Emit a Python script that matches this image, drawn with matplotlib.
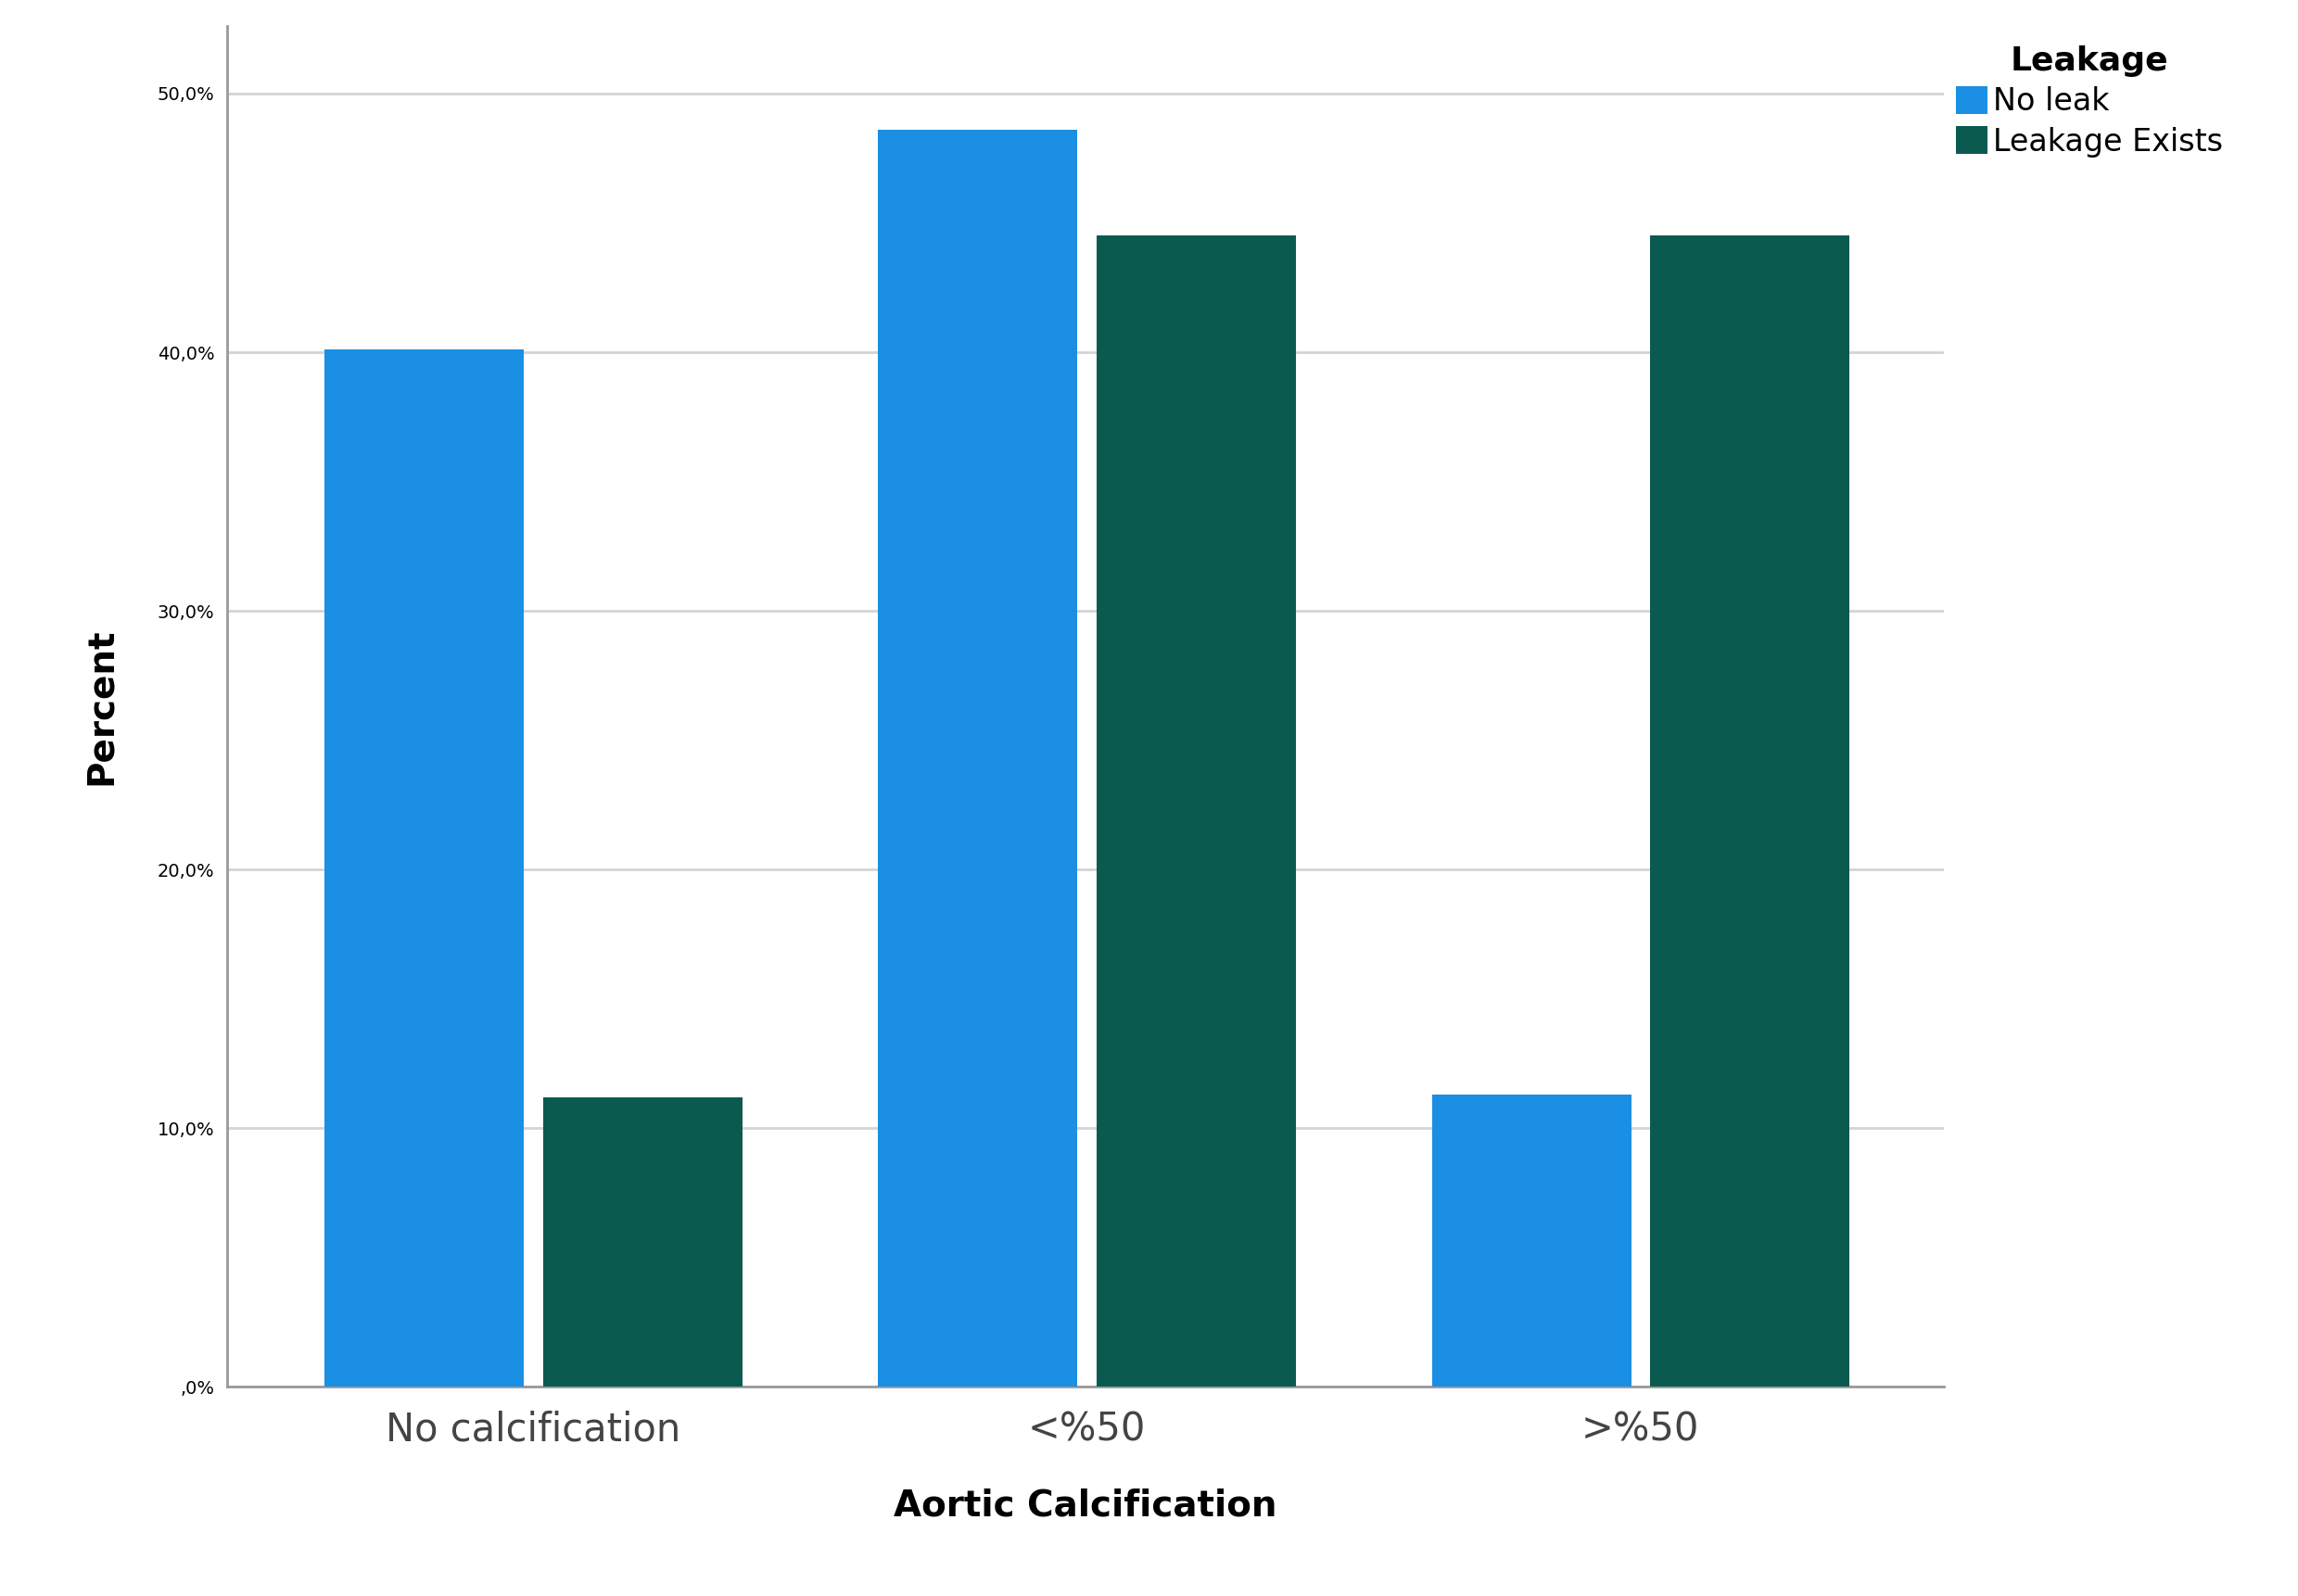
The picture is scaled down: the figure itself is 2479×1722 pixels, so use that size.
import matplotlib
matplotlib.use("Agg")
import matplotlib.pyplot as plt
import numpy as np
from matplotlib.ticker import FuncFormatter

categories = ["No calcification", "<%50", ">%50"]
no_leak = [40.1, 48.6, 11.3]
leak_exists = [11.2, 44.5, 44.5]
series_names = ["No leak", "Leakage Exists"]

fig = plt.figure(figsize=(24.79, 17.22), dpi=100)
ax = fig.add_axes([0.0989, 0.131, 0.747, 0.8525])
x = np.arange(len(categories))
w = 0.36; off = 0.197
ax.bar(x - off, no_leak, w, color="#1a8fe3", label=series_names[0], zorder=3)
ax.bar(x + off, leak_exists, w, color="#0a5a50", label=series_names[1], zorder=3)
ax.set_xlim(-0.553, 2.548)
ax.set_ylim(0, 52.6)
ax.set_yticks([0, 10, 20, 30, 40, 50])
ax.yaxis.set_major_formatter(FuncFormatter(lambda v, p: ",0%" if v == 0 else f"{v:.1f}%".replace(".", ",")))
ax.grid(axis="y", color="#d4d4d4", linewidth=2, zorder=0)
ax.set_xticks(x)
ax.set_xticklabels(categories, fontsize=30, color="#444444")
ax.tick_params(axis="y", labelsize=14, length=0, pad=10)
ax.tick_params(axis="x", length=0, pad=18)
for s in ["top", "right"]:
    ax.spines[s].set_visible(False)
for s in ["left", "bottom"]:
    ax.spines[s].set_color("#999999")
    ax.spines[s].set_linewidth(2)
ax.set_ylabel("Percent", fontsize=28, fontweight="bold", labelpad=30)
ax.set_xlabel("Aortic Calcification", fontsize=28, fontweight="bold", labelpad=30)
leg = ax.legend(loc="upper left", bbox_to_anchor=(1.0, 0.995), frameon=False,
                title="Leakage", fontsize=24, title_fontproperties={"size": 26, "weight": "bold"},
                handlelength=1.0, handleheight=1.0, handletextpad=0.2, borderaxespad=0.0, labelspacing=0.3)
fig.savefig("out.png", dpi=100)
